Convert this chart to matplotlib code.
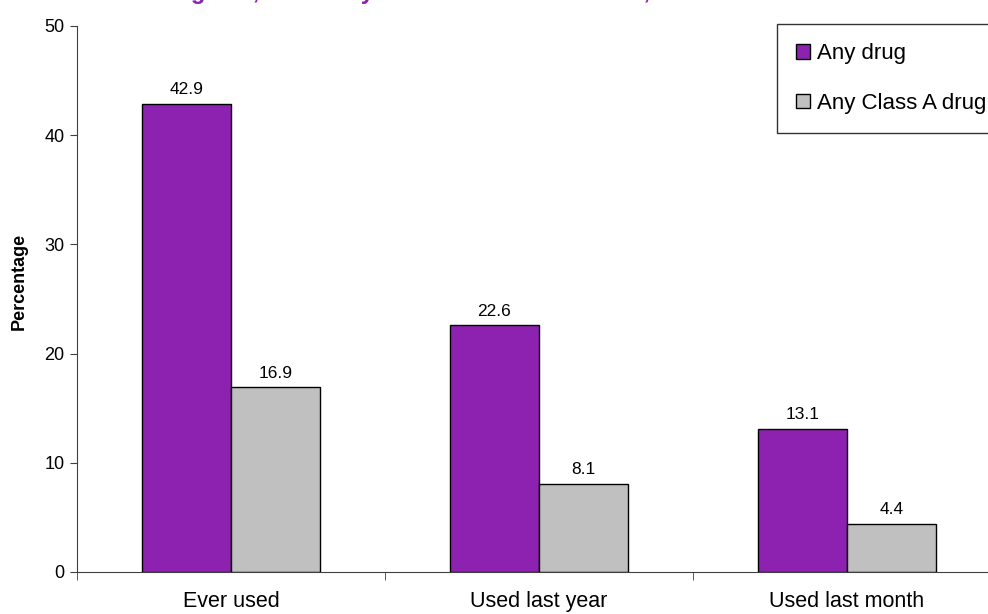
import matplotlib.pyplot as plt
import numpy as np

plt.rcParams['font.family'] = ['Liberation Sans', 'DejaVu Sans']

categories = ['Ever used', 'Used last year', 'Used last month']
any_drug = [42.9, 22.6, 13.1]
class_a = [16.9, 8.1, 4.4]
series_names = ['Any drug', 'Any Class A drug']
title = 'Drug use, 16 to 24 year old men and women, 2005/06'

purple = '#8E22B0'
grey = '#C0C0C0'

fig = plt.figure(figsize=(9.88, 6.14), dpi=100)
# axes runs off the right edge, like the original
ax = fig.add_axes([77 / 988, 42 / 614, 924 / 988, 546 / 614])

x = np.arange(len(categories))
w = 0.289
b1 = ax.bar(x - w / 2, any_drug, w, color=purple, edgecolor='black', linewidth=1, label=series_names[0])
b2 = ax.bar(x + w / 2, class_a, w, color=grey, edgecolor='black', linewidth=1, label=series_names[1])

for bars in (b1, b2):
    for bar in bars:
        h = bar.get_height()
        ax.text(bar.get_x() + bar.get_width() / 2, h + 0.6, f'{h:.1f}',
                ha='center', va='bottom', fontsize=12.5)

ax.set_xlim(-0.5, 2.5)
ax.set_ylim(0, 50)
ax.set_yticks(range(0, 51, 10))
ax.set_xticks(x)
ax.set_xticklabels(categories, fontsize=15.5)
ax.set_xticks([-0.5, 0.5, 1.5, 2.5], minor=True)
ax.tick_params(axis='x', which='major', length=0, pad=14)
ax.tick_params(axis='x', which='minor', length=6, direction='out', color='#404040')
ax.tick_params(axis='y', labelsize=13, length=5, direction='out', color='#404040', pad=4)

for s in ['top', 'right']:
    ax.spines[s].set_visible(False)
ax.spines['left'].set_color('#404040')
ax.spines['bottom'].set_color('#404040')

ax.set_ylabel('Percentage', fontsize=13, fontweight='bold')
ax.yaxis.set_label_coords(-0.053, 0.532)

# title sits above the top edge; only its descenders show
fig.text(150 / 988, 1 + 1.5 / 614, title, color=purple, fontsize=17, fontweight='bold',
         ha='left', va='baseline')

leg = ax.legend(loc='upper left', bbox_to_anchor=(777 / 988, 1 - 24 / 614), bbox_transform=fig.transFigure,
                fontsize=16, frameon=True, fancybox=False, edgecolor='black',
                handlelength=0.65, handleheight=0.65, handletextpad=0.3, labelspacing=1.3,
                borderpad=0.85, borderaxespad=0)
leg.get_frame().set_linewidth(1)

fig.savefig('out.png', dpi=100)
